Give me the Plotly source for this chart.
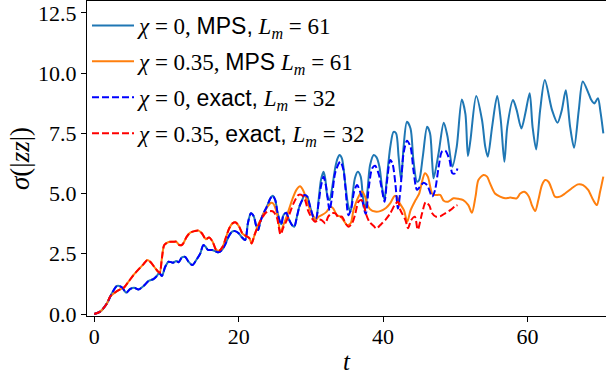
import plotly.graph_objects as go

# ---------------- data (t, sigma) ----------------
# chi = 0 : MPS and exact coincide up to t ~ 30
chi0_common = [(0, 0), (0.83, 0.1), (1.76, 0.44), (2.45, 0.86), (3.14, 1.16), (3.83, 1.11),
               (4.43, 0.88), (4.99, 1.04), (5.54, 1.09), (6.14, 1.02), (6.83, 1.16), (7.52, 1.37),
               (8.2, 1.45), (8.68, 1.58), (9.0, 1.71), (9.37, 1.58), (9.83, 1.96), (10.3, 2.17),
               (10.9, 2.13), (11.36, 2.2), (11.7, 2.15), (12.14, 2.35), (12.6, 2.37), (13.06, 2.17),
               (13.6, 2.03), (14.2, 2.27), (14.7, 2.52), (15.1, 2.86), (15.4, 2.8), (15.75, 2.66),
               (16.3, 2.66), (16.76, 2.61), (17.2, 2.56), (17.7, 2.66), (18.1, 2.86), (18.6, 3.21),
               (19.1, 3.42), (19.5, 3.44), (20.0, 3.35), (20.46, 3.18), (20.9, 3.07), (21.3, 3.8),
               (21.7, 4.18), (22.1, 4.05), (22.4, 3.69), (22.7, 3.49), (23.0, 3.83), (23.45, 4.18),
               (23.9, 4.45), (24.4, 4.8), (24.7, 4.91), (25.07, 4.73), (25.4, 4.18), (25.9, 3.72),
               (26.2, 4.1), (26.6, 4.2), (26.9, 3.97), (27.4, 3.69), (27.7, 3.62), (28.07, 4.04),
               (28.4, 4.45), (28.8, 4.73), (29.1, 4.94), (29.5, 4.87), (29.9, 4.45)]

chi0_mps_tail = [(30.4, 3.97), (30.7, 3.9), (31.07, 4.73), (31.4, 5.56), (31.76, 5.9), (32.0, 5.6),
                 (32.3, 4.87), (32.6, 4.73), (32.9, 5.15), (33.4, 6.11), (33.7, 6.46), (33.97, 6.6),
                 (34.3, 6.46), (34.76, 5.42), (35.2, 4.45), (35.5, 4.25), (35.8, 5.0), (36.1, 5.63),
                 (36.5, 5.9), (36.9, 5.7), (37.2, 4.87), (37.5, 4.3), (37.85, 5.15), (38.2, 6.18),
                 (38.7, 6.6), (39.1, 6.5), (39.5, 6.1), (39.85, 5.28), (40.2, 4.73), (40.5, 5.56),
                 (41.0, 6.94), (41.45, 7.56), (41.8, 7.5), (42.15, 6.53), (42.5, 5.56), (42.84, 6.94),
                 (43.3, 7.98), (43.8, 7.7), (44.2, 6.39), (44.7, 5.49), (45.0, 5.56), (45.5, 6.53),
                 (46.1, 7.77), (46.5, 7.5), (46.8, 6.3), (47.0, 5.63), (47.7, 6.7), (48.4, 7.94),
                 (48.9, 7.4), (49.6, 6.11), (50.2, 6.94), (50.9, 8.9), (51.4, 8.3), (51.75, 6.56),
                 (52.1, 7.22), (52.9, 9.05), (53.7, 8.05), (54.15, 6.94), (54.5, 6.53), (55.1, 7.77),
                 (55.8, 9.05), (56.3, 8.05), (56.8, 6.32), (57.2, 7.77), (58.0, 8.88), (58.5, 8.46),
                 (59.15, 7.7), (59.7, 8.33), (60.3, 9.16), (60.7, 7.77), (61.2, 6.83), (61.75, 8.46),
                 (62.4, 9.71), (63.4, 8.46), (64.15, 7.94), (64.75, 8.46), (65.3, 9.29), (65.9, 7.77),
                 (66.45, 6.9), (67.1, 8.46), (67.65, 9.65), (68.45, 9.16), (68.8, 8.9), (69.25, 8.74),
                 (69.75, 8.95), (70.1, 8.4), (70.5, 7.5)]

chi0_exact_tail = [(30.4, 4.0), (30.7, 3.97), (31.07, 4.6), (31.4, 5.3), (31.76, 5.7), (32.1, 5.3),
                   (32.6, 4.3), (32.9, 4.8), (33.4, 5.9), (34.07, 6.32), (34.5, 6.0), (34.8, 5.2),
                   (35.2, 4.1), (35.6, 4.4), (36.0, 5.1), (36.4, 5.35), (36.9, 5.0), (37.6, 4.15),
                   (38.0, 5.2), (38.5, 6.05), (38.9, 6.15), (39.4, 5.8), (39.85, 5.15), (40.2, 4.66),
                   (40.5, 5.4), (41.0, 6.39), (41.3, 6.25), (41.7, 5.42), (42.06, 4.38), (42.4, 5.15),
                   (42.84, 6.67), (43.3, 7.19), (43.8, 6.94), (44.2, 5.98), (44.7, 5.15), (45.1, 5.28),
                   (45.6, 5.45), (46.1, 5.35), (46.8, 4.87), (47.2, 5.15), (47.7, 6.11), (48.15, 6.74),
                   (48.6, 6.78), (49.2, 6.39), (49.6, 5.84), (50.0, 5.84), (50.3, 6.04)]

# chi = 0.35 : MPS and exact coincide up to t ~ 22
chi035_common = [(0, 0), (0.83, 0.1), (1.76, 0.44), (2.2, 0.72), (2.9, 0.9), (3.6, 1.02),
                 (4.06, 1.08), (4.75, 1.34), (5.45, 1.62), (6.14, 1.85), (6.83, 2.07), (7.38, 2.24),
                 (7.85, 2.14), (8.45, 1.9), (9.05, 1.71), (9.37, 2.31), (9.7, 2.86), (10.3, 2.99),
                 (11.0, 3.0), (11.36, 3.0), (11.8, 2.86), (12.2, 2.88), (12.8, 3.2), (13.3, 3.38),
                 (13.9, 3.44), (14.45, 3.46), (14.9, 3.35), (15.47, 3.1), (15.9, 3.18), (16.4, 3.0),
                 (16.85, 2.68), (17.3, 2.63), (17.8, 2.8), (18.2, 3.14), (18.7, 3.56), (19.15, 3.76),
                 (19.6, 3.8), (20.08, 3.62), (20.5, 3.35), (21.0, 3.24), (21.5, 3.14), (21.8, 2.93),
                 (22.2, 3.28)]

chi035_mps_tail = [(22.7, 3.7), (23.1, 3.95), (23.6, 4.25), (24.0, 4.45), (24.5, 4.62), (24.8, 4.58),
                   (25.3, 4.18), (25.8, 3.4), (26.2, 3.7), (26.7, 4.1), (27.4, 4.73), (28.0, 5.15),
                   (28.5, 5.3), (28.9, 5.15), (29.45, 4.73), (29.9, 4.3), (30.4, 4.04), (30.7, 3.9),
                   (31.07, 4.04), (31.5, 4.1), (32.2, 4.25), (32.7, 4.45), (33.1, 4.38), (33.6, 4.1),
                   (34.1, 4.04), (34.5, 3.9), (35.0, 3.69), (35.5, 3.76), (35.9, 4.3), (36.6, 4.87),
                   (37.1, 5.08), (37.5, 4.87), (37.85, 4.52), (38.2, 4.35), (38.9, 4.25), (39.6, 4.27),
                   (40.4, 4.4), (41.0, 4.6), (41.6, 4.9), (41.95, 4.85), (42.3, 4.6), (42.9, 4.3),
                   (43.35, 3.83), (43.8, 4.3), (44.5, 4.73), (45.0, 5.0), (45.4, 5.5), (45.8, 5.84),
                   (46.2, 5.7), (46.8, 5.0), (47.2, 4.94), (47.9, 4.94), (48.4, 4.7), (49.0, 4.66),
                   (49.75, 4.8), (50.45, 4.78), (51.1, 4.73), (51.8, 4.52), (52.3, 4.2), (52.8, 4.87),
                   (53.2, 5.56), (53.9, 5.77), (54.4, 5.7), (54.8, 5.43), (55.5, 5.0), (56.2, 4.87),
                   (56.9, 4.8), (57.6, 4.83), (58.5, 4.8), (59.0, 5.0), (59.55, 5.07), (60.2, 4.87),
                   (60.6, 4.52), (61.06, 4.27), (61.5, 4.73), (62.0, 5.35), (62.45, 5.56), (62.9, 5.49),
                   (63.4, 5.15), (63.8, 4.87), (64.5, 4.87), (65.2, 5.0), (66.1, 5.21), (67.0, 5.38),
                   (67.7, 5.35), (68.4, 5.15), (69.1, 4.73), (69.6, 4.52), (70.05, 5.07), (70.5, 5.7)]

chi035_exact_tail = [(22.7, 3.65), (23.1, 3.9), (23.6, 4.15), (24.0, 4.25), (24.5, 4.27), (24.8, 4.25),
                     (25.3, 4.0), (25.8, 3.3), (26.2, 3.6), (26.9, 4.04), (27.6, 4.59), (28.3, 4.94),
                     (28.7, 4.94), (29.2, 4.73), (29.6, 4.3), (30.15, 3.97), (30.6, 3.83), (31.07, 3.92),
                     (31.5, 3.9), (32.0, 3.76), (32.4, 4.04), (32.9, 4.18), (33.4, 4.18), (33.8, 4.01),
                     (34.3, 4.04), (34.8, 3.76), (35.2, 3.62), (35.7, 3.76), (36.1, 4.1), (36.6, 4.66),
                     (37.0, 4.73), (37.4, 4.45), (37.7, 4.1), (38.1, 3.83), (38.7, 3.65), (39.1, 3.55),
                     (39.6, 3.69), (40.3, 3.9), (41.0, 4.18), (41.6, 4.52), (42.06, 4.66), (42.4, 4.31),
                     (43.1, 3.9), (43.45, 3.56), (43.9, 3.9), (44.4, 4.04), (44.8, 3.5), (45.4, 4.18),
                     (45.9, 4.64), (46.4, 4.5), (46.8, 4.18), (47.3, 4.04), (47.9, 4.05), (48.6, 4.18),
                     (49.3, 4.31), (50.0, 4.48), (50.3, 4.52)]

SERIF = "'Liberation Serif', 'DejaVu Serif', 'Times New Roman', serif"
SANS = "font-family:'Liberation Sans', Arial, sans-serif"
labels = [
    f'<i>χ</i> = 0, <span style="{SANS}">MPS,</span> <i>L<sub>m</sub></i> = 61',
    f'<i>χ</i> = 0.35, <span style="{SANS}">MPS</span> <i>L<sub>m</sub></i> = 61',
    f'<i>χ</i> = 0, <span style="{SANS}">exact,</span> <i>L<sub>m</sub></i> = 32',
    f'<i>χ</i> = 0.35, <span style="{SANS}">exact,</span> <i>L<sub>m</sub></i> = 32',
]
colors = ["#1f77b4", "#ff7f0e", "#0000ff", "#ff0000"]
dashes = ["solid", "solid", "7px,3px", "7px,3px"]
series = [chi0_common + chi0_mps_tail, chi035_common + chi035_mps_tail,
          chi0_common + chi0_exact_tail, chi035_common + chi035_exact_tail]

fig = go.Figure()
for i, (pts, lab, col, dsh) in enumerate(zip(series, labels, colors, dashes)):
    fig.add_trace(go.Scatter(
        x=[p[0] for p in pts], y=[p[1] for p in pts], mode="lines", name=lab,
        legendgroup=f"g{i}",
        line=dict(color=col, width=2, dash=dsh, shape="spline", smoothing=0.8)))

fig.update_layout(
    width=606, height=376,
    margin=dict(l=87, r=0, t=1, b=60),
    paper_bgcolor="white", plot_bgcolor="white",
    font=dict(family=SERIF, color="black", size=22),
    showlegend=True,
    legend=dict(x=0.0, y=1.0 - 3 / 315, xanchor="left", yanchor="top",
                bgcolor="rgba(255,255,255,0)", borderwidth=0,
                font=dict(family=SERIF, size=23, color="black"),
                traceorder="grouped", tracegroupgap=3, itemwidth=42),
    xaxis=dict(range=[-1, 70.87], tickmode="array", tickvals=[0, 20, 40, 60],
               ticks="outside", ticklen=5, tickwidth=1, tickcolor="black",
               showline=True, linecolor="black", linewidth=1.2, mirror=True,
               showgrid=False, zeroline=False, ticklabelstandoff=-5,
               tickfont=dict(family=SERIF, size=22),
               title=dict(text="<i>t</i>", font=dict(family=SERIF, size=25), standoff=4)),
    yaxis=dict(range=[-0.083, 12.99], tickmode="array",
               tickvals=[0, 2.5, 5, 7.5, 10, 12.5],
               ticktext=["0.0", "2.5", "5.0", "7.5", "10.0", "12.5"],
               ticks="outside", ticklen=5, tickwidth=1, tickcolor="black",
               showline=True, linecolor="black", linewidth=1.2,
               showgrid=False, zeroline=False, ticklabeloverflow="allow",
               tickfont=dict(family=SERIF, size=22),
               title=dict(text="<i>σ</i>(|<i>zz</i>|)", font=dict(family=SERIF, size=27), standoff=0)),
)

fig.write_html("out.html")
